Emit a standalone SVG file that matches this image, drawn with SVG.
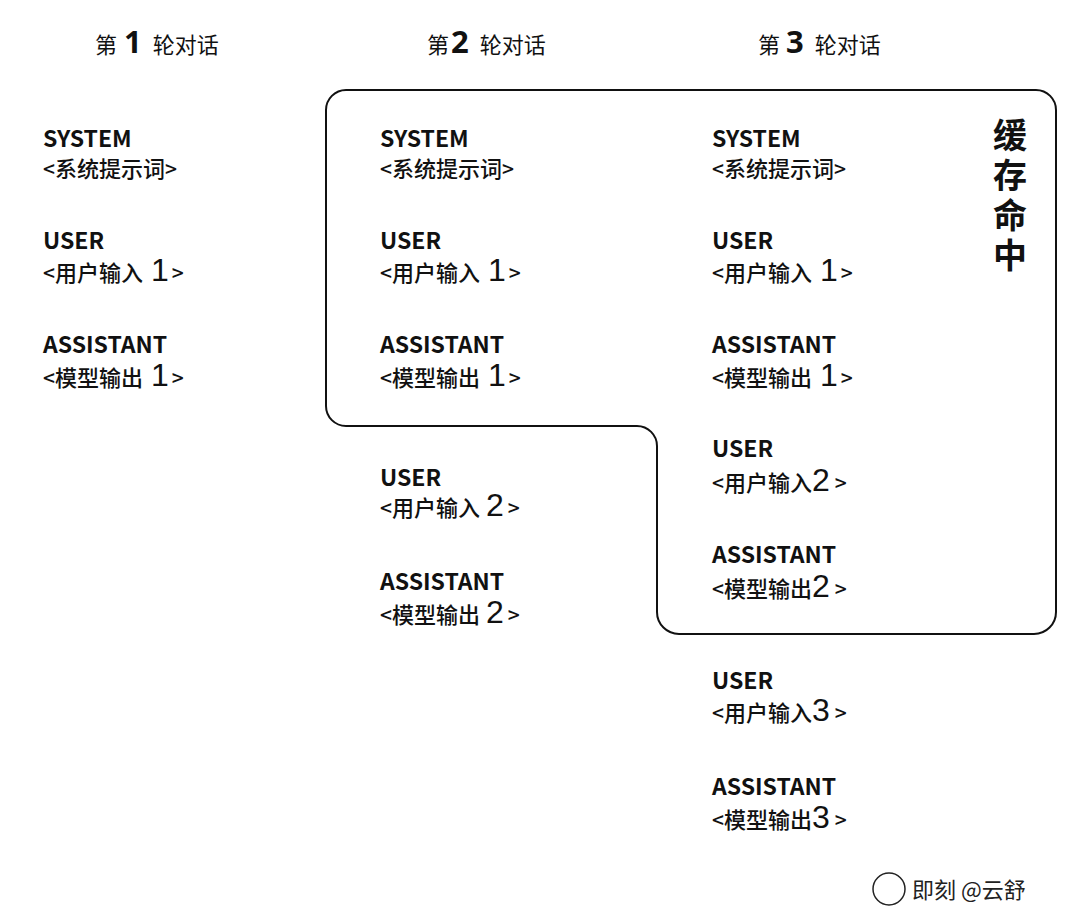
<svg xmlns="http://www.w3.org/2000/svg" width="1080" height="922" viewBox="0 0 1080 922">
<style>
text{font-family:"Noto Sans CJK SC",sans-serif;fill:#111}
.h{font-size:22px}
.hn{font-size:31px;font-weight:700;font-family:"Noto Sans",sans-serif}
.role{font-size:23px;font-weight:700}
.c{font-size:22px;font-weight:500}
.b{font-size:21px;font-weight:500}
.n{font-size:32px;font-weight:400;font-family:"Liberation Sans",sans-serif}
.v{font-size:34px;font-weight:700;writing-mode:vertical-rl;letter-spacing:6px}
.wm{font-size:22px;fill:#222}
</style>
<rect width="1080" height="922" fill="#fff"/>
<g id="headers">
<text x="95" y="53" class="h">第<tspan class="hn" dx="7">1</tspan><tspan dx="11">轮对话</tspan></text>
<text x="427" y="53" class="h">第<tspan class="hn" dx="2">2</tspan><tspan dx="11">轮对话</tspan></text>
<text x="758" y="53" class="h">第<tspan class="hn" dx="6">3</tspan><tspan dx="11">轮对话</tspan></text>
</g>
<g id="connectors">
<path id="cache-outline" d="M346 90 H1036 A20 20 0 0 1 1056 110 V612 A22 22 0 0 1 1034 634 H679 A22 22 0 0 1 657 612 V446 A20 20 0 0 0 637 426 H346 A20 20 0 0 1 326 406 V110 A20 20 0 0 1 346 90 Z" fill="none" stroke="#111" stroke-width="2"/>
</g>
<g id="cache-label">
<text x="1010" y="118" class="v">缓存命中</text>
</g>
<g id="col1">
<g id="c1-system"><text x="43" y="147" class="role">SYSTEM</text><text x="43" y="177" class="c"><tspan class="b">&lt;</tspan>系统提示词<tspan class="b">&gt;</tspan></text></g>
<g id="c1-user1"><text x="43" y="249" class="role">USER</text><text x="43" y="281" class="c"><tspan class="b">&lt;</tspan>用户输入<tspan class="n" dx="8">1</tspan><tspan class="b" dx="3">&gt;</tspan></text></g>
<g id="c1-assistant1"><text x="43" y="353" class="role">ASSISTANT</text><text x="43" y="386" class="c"><tspan class="b">&lt;</tspan>模型输出<tspan class="n" dx="8">1</tspan><tspan class="b" dx="3">&gt;</tspan></text></g>
</g>
<g id="col2">
<g id="c2-system"><text x="380" y="147" class="role">SYSTEM</text><text x="380" y="177" class="c"><tspan class="b">&lt;</tspan>系统提示词<tspan class="b">&gt;</tspan></text></g>
<g id="c2-user1"><text x="380" y="249" class="role">USER</text><text x="380" y="281" class="c"><tspan class="b">&lt;</tspan>用户输入<tspan class="n" dx="8">1</tspan><tspan class="b" dx="3">&gt;</tspan></text></g>
<g id="c2-assistant1"><text x="380" y="353" class="role">ASSISTANT</text><text x="380" y="386" class="c"><tspan class="b">&lt;</tspan>模型输出<tspan class="n" dx="8">1</tspan><tspan class="b" dx="3">&gt;</tspan></text></g>
<g id="c2-user2"><text x="380" y="486" class="role">USER</text><text x="380" y="516" class="c"><tspan class="b">&lt;</tspan>用户输入<tspan class="n" dx="6">2</tspan><tspan class="b" dx="4">&gt;</tspan></text></g>
<g id="c2-assistant2"><text x="380" y="590" class="role">ASSISTANT</text><text x="380" y="623" class="c"><tspan class="b">&lt;</tspan>模型输出<tspan class="n" dx="6">2</tspan><tspan class="b" dx="4">&gt;</tspan></text></g>
</g>
<g id="col3">
<g id="c3-system"><text x="712" y="147" class="role">SYSTEM</text><text x="712" y="177" class="c"><tspan class="b">&lt;</tspan>系统提示词<tspan class="b">&gt;</tspan></text></g>
<g id="c3-user1"><text x="712" y="249" class="role">USER</text><text x="712" y="281" class="c"><tspan class="b">&lt;</tspan>用户输入<tspan class="n" dx="8">1</tspan><tspan class="b" dx="3">&gt;</tspan></text></g>
<g id="c3-assistant1"><text x="712" y="353" class="role">ASSISTANT</text><text x="712" y="386" class="c"><tspan class="b">&lt;</tspan>模型输出<tspan class="n" dx="8">1</tspan><tspan class="b" dx="3">&gt;</tspan></text></g>
<g id="c3-user2"><text x="712" y="457" class="role">USER</text><text x="712" y="491" class="c"><tspan class="b">&lt;</tspan>用户输入<tspan class="n" dx="0">2</tspan><tspan class="b" dx="5">&gt;</tspan></text></g>
<g id="c3-assistant2"><text x="712" y="563" class="role">ASSISTANT</text><text x="712" y="597" class="c"><tspan class="b">&lt;</tspan>模型输出<tspan class="n" dx="0">2</tspan><tspan class="b" dx="5">&gt;</tspan></text></g>
<g id="c3-user3"><text x="712" y="689" class="role">USER</text><text x="712" y="721" class="c"><tspan class="b">&lt;</tspan>用户输入<tspan class="n" dx="0">3</tspan><tspan class="b" dx="5">&gt;</tspan></text></g>
<g id="c3-assistant3"><text x="712" y="795" class="role">ASSISTANT</text><text x="712" y="828" class="c"><tspan class="b">&lt;</tspan>模型输出<tspan class="n" dx="0">3</tspan><tspan class="b" dx="5">&gt;</tspan></text></g>
</g>
<g id="watermark">
<circle cx="889" cy="889" r="16" fill="none" stroke="#222" stroke-width="1.5"/>
<text x="912" y="898" class="wm">即刻 @云舒</text>
</g>
</svg>
